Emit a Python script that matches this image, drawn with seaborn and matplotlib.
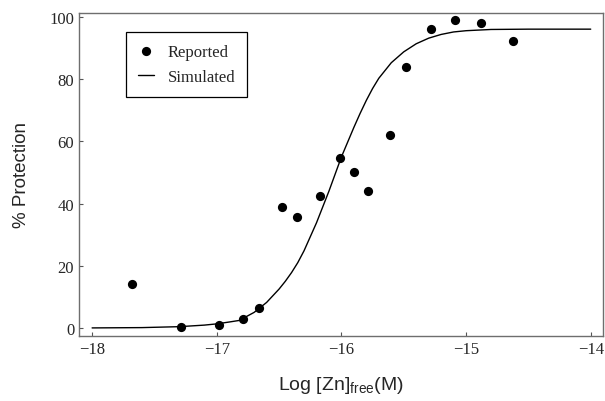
import matplotlib
matplotlib.use("Agg")
import matplotlib.pyplot as plt
import seaborn as sns
import pandas as pd

# Points rapportés
reported_x = [-17.68, -17.29, -16.98, -16.79, -16.66, -16.48, -16.36, -16.17, -16.01,
              -15.90, -15.79, -15.61, -15.48, -15.28, -15.09, -14.88, -14.62]
reported_y = [14.0, 0.2, 1.0, 2.9, 6.5, 38.8, 35.8, 42.3, 54.8,
              50.2, 44.2, 62.0, 84.0, 96.3, 99.0, 98.0, 92.3]

# Courbe simulée
simulated_x = [-18.0, -17.6, -17.3, -17.1, -17.0, -16.9, -16.82, -16.7, -16.6, -16.5,
               -16.45, -16.4, -16.35, -16.3, -16.2, -16.1, -16.0, -15.9, -15.85, -15.8,
               -15.75, -15.7, -15.6, -15.5, -15.4, -15.3, -15.2, -15.1, -15.0, -14.8,
               -14.5, -14.0]
simulated_y = [0.0, 0.1, 0.4, 0.9, 1.3, 1.9, 2.4, 5.0, 8.2, 12.5,
               15.0, 17.8, 21.0, 24.8, 33.8, 44.0, 55.0, 64.5, 69.0, 73.2,
               77.0, 80.3, 85.3, 88.8, 91.4, 93.2, 94.4, 95.2, 95.6, 96.0,
               96.1, 96.1]

x_ticks = [-18, -17, -16, -15, -14]
y_ticks = [0, 20, 40, 60, 80, 100]

sns.set_style("ticks")
plt.rcParams['font.family'] = ['Liberation Serif', 'DejaVu Serif']
plt.rcParams['mathtext.fontset'] = 'custom'
plt.rcParams['mathtext.rm'] = 'Liberation Sans'

rep_df = pd.DataFrame({'x': reported_x, 'y': reported_y})
sim_df = pd.DataFrame({'x': simulated_x, 'y': simulated_y})

fig = plt.figure(figsize=(6.05, 4.02), dpi=100)
ax = fig.add_axes([0.1306, 0.1617, 0.8664, 0.8035])

sns.lineplot(data=sim_df, x='x', y='y', ax=ax, color='black', linewidth=1.0,
             label='Simulated', sort=False)
sns.scatterplot(data=rep_df, x='x', y='y', ax=ax, color='black', s=44,
                edgecolor='black', linewidth=0, label='Reported', zorder=3)

ax.set_xlim(-18.105, -13.9)
ax.set_ylim(-2.6, 101.3)
ax.set_xticks(x_ticks)
ax.set_yticks(y_ticks)
ax.set_xticklabels([f"\u2212{abs(t)}" for t in x_ticks])
ax.tick_params(direction='in', length=3, width=0.8, labelsize=12, color='#555555')
for sp in ax.spines.values():
    sp.set_color('#6e6e6e')
    sp.set_linewidth(1.0)

ax.set_xlabel(r'Log [Zn]$_{\mathrm{free}}$(M)', family='Liberation Sans', fontsize=14, labelpad=12)
ax.set_ylabel('% Protection', family='Liberation Sans', fontsize=13.5, labelpad=14)

handles, labels = ax.get_legend_handles_labels()
order = [labels.index('Reported'), labels.index('Simulated')]
leg = ax.legend([handles[i] for i in order], [labels[i] for i in order],
                loc='upper left', bbox_to_anchor=(0.0895, 0.941), borderaxespad=0,
                fontsize=12, frameon=True, fancybox=False, edgecolor='black',
                framealpha=1, borderpad=0.7, handlelength=1.0, handletextpad=0.8,
                labelspacing=0.55)
leg.get_frame().set_linewidth(0.9)

plt.savefig('out.png', dpi=100)
plt.close()
